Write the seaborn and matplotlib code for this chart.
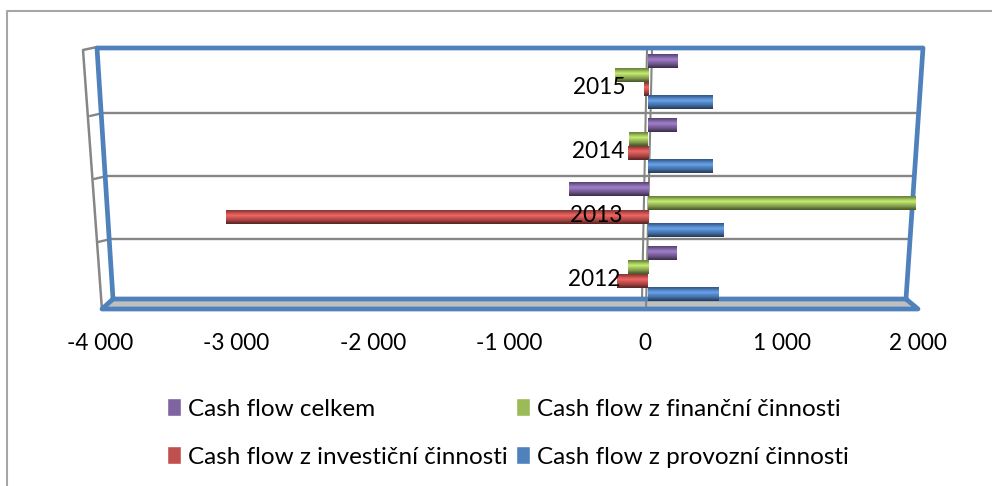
import matplotlib
matplotlib.use("Agg")
import matplotlib.pyplot as plt
import numpy as np
import pandas as pd
import seaborn as sns
from matplotlib.patches import Polygon, Patch

years = ["2015", "2014", "2013", "2012"]
cf_celkem = [220, 215, -590, 210]
cf_financni = [-250, -140, 2000, -150]
cf_investicni = [-30, -150, -3150, -230]
cf_provozni = [485, 480, 560, 525]
series_names = [
    "Cash flow celkem", "Cash flow z finanční činnosti",
    "Cash flow z investiční činnosti", "Cash flow z provozní činnosti"
    ]
series_colors = ["#8064a2", "#9bbb59", "#c0504d", "#4f81bd"]
tick_values = [-4000, -3000, -2000, -1000, 0, 1000, 2000]
tick_labels = ["-4 000", "-3 000", "-2 000", "-1 000", "0", "1 000", "2 000"]

W, H = 992, 486

def px_axes(fig, x0, y0, x1, y1):
    """Axes from pixel box, y counted from the top."""
    return fig.add_axes([x0 / W, 1 - y1 / H, (x1 - x0) / W, (y1 - y0) / H])

sns.set_theme(style = "white")
plt.rcParams["font.family"] = ["Lato", "DejaVu Sans"]

df = pd.DataFrame({
    "year": years * 4,
    "value": cf_celkem + cf_financni + cf_investicni + cf_provozni,
    "series": np.repeat(series_names, 4)
    })

fig = plt.figure(figsize = (W / 100, H / 100), dpi = 100)

# frame of the fake 3d box, in pixels
bg = px_axes(fig, 0, 0, W, H)
bg.set_xlim(0, W)
bg.set_ylim(H, 0)
bg.axis("off")
grey = "#868686"
blue = "#4f81bd"
bg.plot([7, 7, 992], [486, 11, 11], color = "#a6a6a6", lw = 1.5)
bg.add_patch(Polygon(
    [[113, 299], [906, 299], [918, 309], [102, 309]], color = "#bfbfbf", lw = 0
    ))
bg.plot([97, 83, 102], [47, 50, 310], color = grey, lw = 1.8)
for y, x_wall, x_front, x_back in [
    (113, 90, 103, 917), (176, 94, 107, 912), (239, 98, 111, 908)
    ]:
    bg.plot([x_wall, x_front, x_back], [y + 3, y, y], color = grey, lw = 1.7)
bg.plot([652, 646], [50, 309], color = grey, lw = 1.5)
bg.plot([647, 642], [50, 299], color = grey, lw = 1.5)
bg.plot(
    [113, 97, 923, 906, 113, 102, 918, 906],
    [299, 48, 48, 299, 299, 309, 309, 299],
    color = blue, lw = 3.4, solid_joinstyle = "round"
    )

# bars
ax = px_axes(fig, 112, 50, 916, 306)
ax.patch.set_alpha(0)
sns.barplot(
    data = df, x = "value", y = "year", hue = "series", order = years,
    hue_order = series_names, palette = series_colors, width = 0.85,
    gap = 0, saturation = 1, orient = "h", legend = False, ax = ax
    )

# cylinder shading on each seaborn bar
shade = np.array([0.72, 0.92, 1.12, 1.25, 1.12, 0.98, 0.85, 0.68, 0.5])
for patch, color in zip(ax.patches, np.repeat(series_colors, 4)):
    rgb = np.array(matplotlib.colors.to_rgb(color))
    img = np.clip(rgb[None, :] * shade[:, None], 0, 1)[:, None, :]
    x0, y0, w, h = patch.get_x(), patch.get_y(), patch.get_width(), patch.get_height()
    ax.imshow(
        img, extent = (x0, x0 + w, y0 + h, y0), aspect = "auto",
        interpolation = "bilinear", zorder = 3
        )
    patch.set_visible(False)
ax.set_xlim(-4000, 2000)
ax.set_ylim(3.5, -0.5)
ax.set_xlabel("")
ax.set_ylabel("")
ax.set_xticks([])
ax.set_yticks([])
sns.despine(ax = ax, left = True, bottom = True)

# year labels sit next to the zero line
for i, year in enumerate(years):
    ax.text(
        -165 - 13 * i, i + 0.09, year, ha = "right", va = "center",
        fontsize = 16.3, color = "black", zorder = 5
        )

# value axis of the front plane
ax_ticks = px_axes(fig, 100, 306, 918, 312)
ax_ticks.patch.set_alpha(0)
ax_ticks.set_xlim(-4000, 2000)
ax_ticks.set_yticks([])
ax_ticks.set_xticks(tick_values, tick_labels, fontsize = 16.3)
ax_ticks.tick_params(axis = "x", length = 0, pad = 15, colors = "black")
sns.despine(ax = ax_ticks, left = True, bottom = True)

# legend, filled by column
handles = [Patch(facecolor = series_colors[i], label = series_names[i]) for i in [0, 2, 1, 3]]
fig.legend(
    handles = handles, ncol = 2, loc = "center left",
    bbox_to_anchor = (145 / W, 1 - 433 / H), frameon = False, fontsize = 17.5,
    handlelength = 0.58, handleheight = 0.72, handletextpad = 0.27,
    labelspacing = 1.1, columnspacing = 0.37, labelcolor = "black"
    )

fig.savefig("out.png", dpi = 100)
